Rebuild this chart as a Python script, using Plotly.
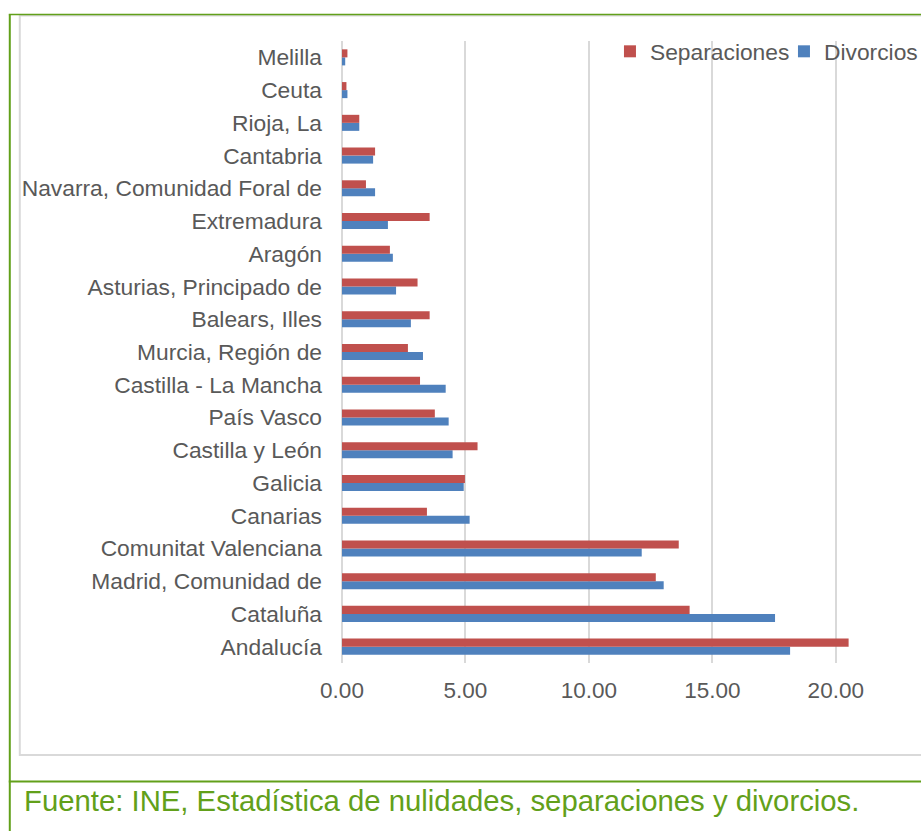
import plotly.graph_objects as go

# Data (bottom -> top in the chart)
regions = [
    "Andalucía", "Cataluña", "Madrid, Comunidad de", "Comunitat Valenciana",
    "Canarias", "Galicia", "Castilla y León", "País Vasco",
    "Castilla - La Mancha", "Murcia, Región de", "Balears, Illes",
    "Asturias, Principado de", "Aragón", "Extremadura",
    "Navarra, Comunidad Foral de", "Cantabria", "Rioja, La", "Ceuta", "Melilla",
]
separaciones = [20.52, 14.08, 12.71, 13.64, 3.44, 4.98, 5.49, 3.76, 3.16, 2.67,
                3.55, 3.06, 1.94, 3.55, 0.97, 1.34, 0.70, 0.18, 0.22]
divorcios = [18.15, 17.54, 13.03, 12.14, 5.17, 4.93, 4.48, 4.32, 4.20, 3.28,
             2.79, 2.19, 2.06, 1.86, 1.34, 1.26, 0.70, 0.22, 0.13]
tick_vals = [0, 5, 10, 15, 20]
footer = "Fuente: INE, Estadística de nulidades, separaciones y divorcios."

W, H = 921, 831
L, R, T, B = 341.5, 921, 40.5, 663


def px_x(p):
    return (p - L) / (R - L)


def px_y(p):
    return (B - p) / (B - T)


FONT = "Liberation Sans, Arial, sans-serif"
GRAY_TXT = "#595959"
GREEN = "#62A01A"

fig = go.Figure()
fig.add_trace(go.Bar(
    y=regions, x=divorcios, name="Divorcios", orientation="h",
    marker=dict(color="#4F81BD", line=dict(width=0)),
))
fig.add_trace(go.Bar(
    y=regions, x=separaciones, name="Separaciones", orientation="h",
    marker=dict(color="#C0504D", line=dict(width=0)),
))

x_max = (R - L) / ((835.7 - 341.5) / 20.0)

shapes = [
    # inner gray chart frame
    dict(type="rect", xref="paper", yref="paper",
         x0=px_x(19), x1=px_x(940), y0=px_y(755), y1=px_y(15),
         line=dict(color="#D9D9D9", width=2), fillcolor="rgba(0,0,0,0)"),
    # green top line
    dict(type="line", xref="paper", yref="paper",
         x0=px_x(8), x1=px_x(925), y0=px_y(14), y1=px_y(14),
         line=dict(color=GREEN, width=1.5)),
    # green left line
    dict(type="line", xref="paper", yref="paper",
         x0=px_x(9), x1=px_x(9), y0=px_y(14), y1=px_y(835),
         line=dict(color=GREEN, width=2)),
    # green separator line above footer
    dict(type="line", xref="paper", yref="paper",
         x0=px_x(8), x1=px_x(925), y0=px_y(781.5), y1=px_y(781.5),
         line=dict(color=GREEN, width=2)),
]

fig.update_layout(
    width=W, height=H,
    margin=dict(l=L, r=W - R, t=T, b=H - B, pad=0, autoexpand=False),
    paper_bgcolor="white", plot_bgcolor="rgba(0,0,0,0)",
    barmode="group", bargap=0.51, bargroupgap=0,
    font=dict(family=FONT, size=22.8, color=GRAY_TXT),
    showlegend=True,
    legend=dict(orientation="h", traceorder="reversed",
                x=px_x(958), xanchor="right", y=px_y(51), yanchor="middle",
                bgcolor="rgba(0,0,0,0)", font=dict(size=22.8, color=GRAY_TXT),
                itemwidth=30, entrywidth=129, entrywidthmode="pixels"),
    xaxis=dict(range=[0, x_max], tickvals=tick_vals, tickformat=".2f",
               showgrid=True, gridcolor="#D9D9D9", gridwidth=1.5,
               zeroline=True, zerolinecolor="#D9D9D9", zerolinewidth=2,
               showline=False, ticks="", ticklabelstandoff=11,
               tickfont=dict(size=22.5, color=GRAY_TXT), fixedrange=True,
               automargin=False),
    yaxis=dict(type="category", range=[-0.5, len(regions) - 0.5],
               showgrid=False, zeroline=False, showline=False, ticks="",
               ticklabelstandoff=19,
               tickfont=dict(size=22.8, color=GRAY_TXT), fixedrange=True,
               automargin=False),
    shapes=shapes,
    annotations=[dict(
        text=footer, xref="paper", yref="paper",
        x=px_x(21), y=px_y(801), xanchor="left", yanchor="middle",
        showarrow=False, font=dict(family=FONT, size=29.3, color=GREEN),
    )],
)

fig.write_html(
    "out.html",
    config=dict(displayModeBar=False),
    post_script="document.body.style.margin='0';document.body.style.overflow='hidden';",
)
